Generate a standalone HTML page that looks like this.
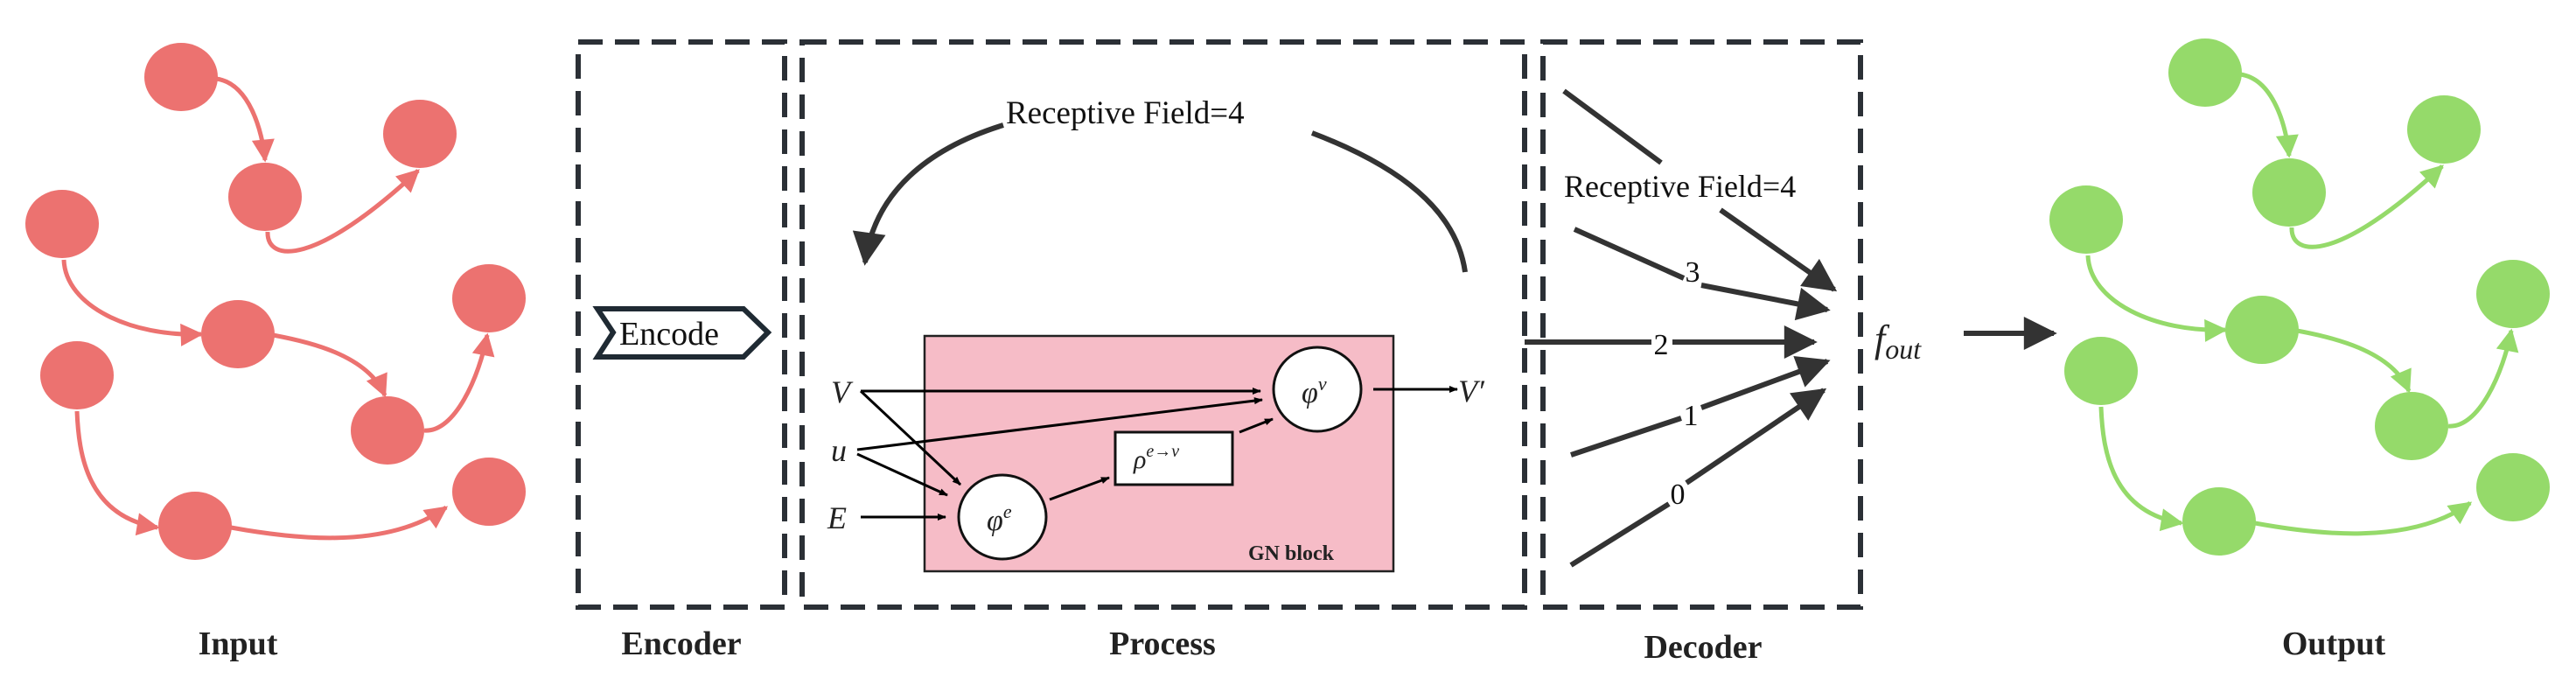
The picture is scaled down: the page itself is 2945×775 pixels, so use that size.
<!DOCTYPE html>
<html><head><meta charset="utf-8"><style>html,body{margin:0;padding:0;background:#fff}svg{display:block}svg text{font-family:"Liberation Serif","DejaVu Serif",serif}</style></head><body>
<svg width="2945" height="775" viewBox="0 0 2945 775" xmlns="http://www.w3.org/2000/svg">
<defs>
<marker id="ar" viewBox="0 0 10 10" refX="9" refY="5" markerWidth="32" markerHeight="26" orient="auto" markerUnits="userSpaceOnUse"><path d="M0,0L10,5L0,10z" fill="#ec7270"/></marker>
<marker id="ag" viewBox="0 0 10 10" refX="9" refY="5" markerWidth="32" markerHeight="26" orient="auto" markerUnits="userSpaceOnUse"><path d="M0,0L10,5L0,10z" fill="#95da6a"/></marker>
<marker id="ak" viewBox="0 0 10 10" refX="9" refY="5" markerWidth="13" markerHeight="10" orient="auto" markerUnits="userSpaceOnUse"><path d="M0,1L10,5L0,9z" fill="#000"/></marker>
<marker id="ab" viewBox="0 0 10 10" refX="9" refY="5" markerWidth="48" markerHeight="38" orient="auto" markerUnits="userSpaceOnUse"><path d="M0,0L10,5L0,10z" fill="#333"/></marker>
</defs>
<g fill="#ec7270" stroke="#ec7270">
<g stroke-width="5" fill="none" marker-end="url(#ar)">
<path d="M247,90 C285,95 300,150 303,183"/>
<path d="M306,265 C305,300 360,305 478,195"/>
<path d="M73,297 C75,350 150,385 230,382"/>
<path d="M312,383 C350,390 420,405 440,452"/>
<path d="M485,492 C520,495 548,430 557,383"/>
<path d="M88,470 C90,520 100,590 180,603"/>
<path d="M264,603 C330,615 440,630 510,580"/>
</g>
<g stroke="none">
<ellipse cx="207" cy="88" rx="42" ry="39"/><ellipse cx="303" cy="225" rx="42" ry="39"/><ellipse cx="480" cy="153" rx="42" ry="39"/>
<ellipse cx="71" cy="256" rx="42" ry="39"/><ellipse cx="272" cy="382" rx="42" ry="39"/><ellipse cx="559" cy="341" rx="42" ry="39"/>
<ellipse cx="88" cy="429" rx="42" ry="39"/><ellipse cx="443" cy="492" rx="42" ry="39"/><ellipse cx="223" cy="601" rx="42" ry="39"/>
<ellipse cx="559" cy="562" rx="42" ry="39"/>
</g>
</g>
<g transform="translate(2314,-5)" fill="#95da6a" stroke="#95da6a">
<g stroke-width="5" fill="none" marker-end="url(#ag)">
<path d="M247,90 C285,95 300,150 303,183"/>
<path d="M306,265 C305,300 360,305 478,195"/>
<path d="M73,297 C75,350 150,385 230,382"/>
<path d="M312,383 C350,390 420,405 440,452"/>
<path d="M485,492 C520,495 548,430 557,383"/>
<path d="M88,470 C90,520 100,590 180,603"/>
<path d="M264,603 C330,615 440,630 510,580"/>
</g>
<g stroke="none">
<ellipse cx="207" cy="88" rx="42" ry="39"/><ellipse cx="303" cy="225" rx="42" ry="39"/><ellipse cx="480" cy="153" rx="42" ry="39"/>
<ellipse cx="71" cy="256" rx="42" ry="39"/><ellipse cx="272" cy="382" rx="42" ry="39"/><ellipse cx="559" cy="341" rx="42" ry="39"/>
<ellipse cx="88" cy="429" rx="42" ry="39"/><ellipse cx="443" cy="492" rx="42" ry="39"/><ellipse cx="223" cy="601" rx="42" ry="39"/>
<ellipse cx="559" cy="562" rx="42" ry="39"/>
</g>
</g>
<g fill="none" stroke="#2b3036" stroke-width="6" stroke-dasharray="28,14">
<rect x="661" y="48" width="236" height="646"/>
<rect x="917" y="48" width="826" height="646"/>
<rect x="1764" y="48" width="363" height="646"/>
</g>
<path d="M683,353 L850,353 L878,380 L850,408 L683,408 L701,380 Z" fill="#fff" stroke="#1f2a33" stroke-width="6"/>
<text x="708" y="394" font-size="38" fill="#111">Encode</text>
<path d="M1147,143 C1060,170 1000,220 989,300" fill="none" stroke="#333" stroke-width="6" marker-end="url(#ab)"/>
<path d="M1500,152 C1600,190 1665,240 1675,311" fill="none" stroke="#333" stroke-width="6"/>
<text x="1150" y="141" font-size="37" fill="#111">Receptive Field=4</text>
<rect x="1057" y="384" width="536" height="269" fill="#f6bcc7" stroke="#222" stroke-width="2.5"/>
<ellipse cx="1506" cy="445" rx="50" ry="48" fill="#fff" stroke="#111" stroke-width="3"/>
<ellipse cx="1146" cy="591" rx="50" ry="48" fill="#fff" stroke="#111" stroke-width="3"/>
<rect x="1275" y="494" width="134" height="60" fill="#fff" stroke="#111" stroke-width="3"/>
<g stroke="#000" stroke-width="3" fill="none" marker-end="url(#ak)">
<line x1="984" y1="447" x2="1441" y2="447"/>
<line x1="984" y1="447" x2="1098" y2="554"/>
<line x1="980" y1="514" x2="1443" y2="457"/>
<line x1="980" y1="519" x2="1083" y2="566"/>
<line x1="984" y1="591" x2="1081" y2="591"/>
<line x1="1200" y1="571" x2="1268" y2="546"/>
<line x1="1417" y1="494" x2="1455" y2="479"/>
<line x1="1570" y1="445" x2="1666" y2="445"/>
</g>
<g font-style="italic" fill="#222">
<text x="950" y="460" font-size="36">V</text>
<text x="950" y="527" font-size="36">u</text>
<text x="946" y="604" font-size="36">E</text>
<text x="1667" y="459" font-size="36">V′</text>
<text x="1488" y="460" font-size="34">φ<tspan font-size="22" dy="-14">v</tspan></text>
<text x="1128" y="606" font-size="34">φ<tspan font-size="22" dy="-14">e</tspan></text>
<text x="1296" y="535" font-size="30">ρ<tspan font-size="20" dy="-13">e→v</tspan></text>
</g>
<text x="1427" y="640" font-size="24" font-weight="bold" fill="#222">GN block</text>
<g stroke="#333" stroke-width="6" fill="none">
<line x1="1788" y1="104" x2="1899" y2="186"/>
<line x1="1967" y1="240" x2="2097" y2="331" marker-end="url(#ab)"/>
<line x1="1800" y1="262" x2="1925" y2="318"/><line x1="1945" y1="326" x2="2089" y2="354" marker-end="url(#ab)"/>
<line x1="1743" y1="391" x2="1888" y2="391"/><line x1="1912" y1="391" x2="2074" y2="391" marker-end="url(#ab)"/>
<line x1="1796" y1="520" x2="1922" y2="478"/><line x1="1945" y1="466" x2="2089" y2="413" marker-end="url(#ab)"/>
<line x1="1796" y1="646" x2="1908" y2="576"/><line x1="1928" y1="552" x2="2085" y2="446" marker-end="url(#ab)"/>
<line x1="2245" y1="381" x2="2348" y2="381" marker-end="url(#ab)"/>
</g>
<text x="1788" y="225" font-size="36" fill="#111">Receptive Field=4</text>
<g font-size="34" fill="#111" text-anchor="middle">
<text x="1935" y="322">3</text><text x="1899" y="405">2</text><text x="1933" y="486">1</text><text x="1918" y="576">0</text>
</g>
<text x="2143" y="402" font-size="44" font-style="italic" fill="#222">f<tspan font-size="32" dy="8">out</tspan></text>
<g font-size="38" font-weight="bold" fill="#222" text-anchor="middle">
<text x="272" y="748">Input</text>
<text x="779" y="748">Encoder</text>
<text x="1329" y="748">Process</text>
<text x="1947" y="752">Decoder</text>
<text x="2668" y="748">Output</text>
</g>
</svg>
</body></html>
